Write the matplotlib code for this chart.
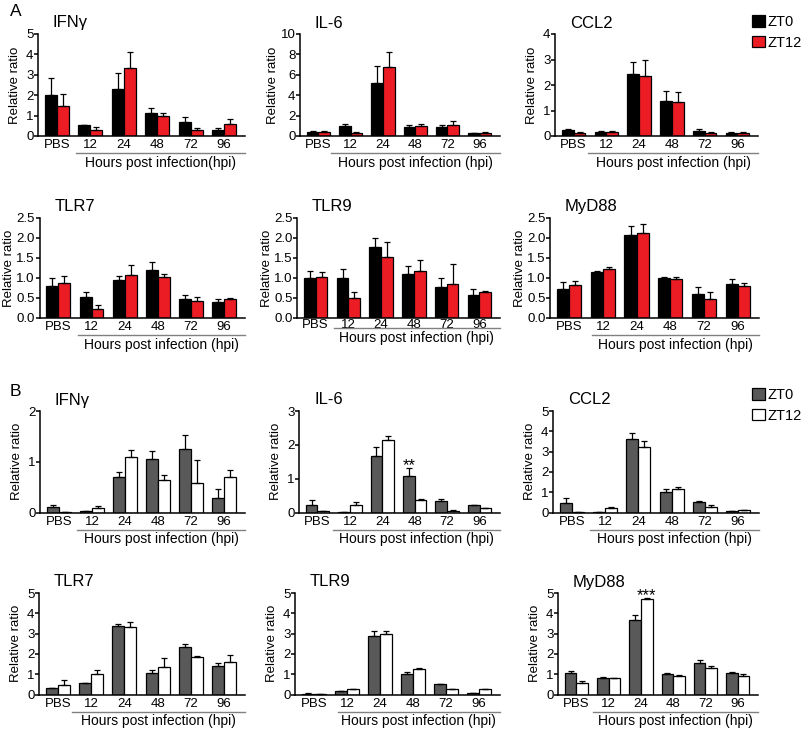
import numpy as np
import matplotlib.pyplot as plt
import matplotlib.transforms as mtransforms
from matplotlib.patches import Patch

plt.rcParams['font.family'] = ['Liberation Sans', 'DejaVu Sans']

groups = ['PBS', '12', '24', '48', '72', '96']
series = ['ZT0', 'ZT12']

# ---- A: mean and upper error ----
a_ifng_zt0 = [2.03, 0.54, 2.28, 1.14, 0.70, 0.29]
a_ifng_zt0_err = [0.80, 0.02, 0.80, 0.21, 0.24, 0.08]
a_ifng_zt12 = [1.46, 0.29, 3.35, 0.99, 0.29, 0.57]
a_ifng_zt12_err = [0.62, 0.16, 0.75, 0.16, 0.11, 0.26]

a_il6_zt0 = [0.43, 0.99, 5.15, 0.89, 0.86, 0.26]
a_il6_zt0_err = [0.06, 0.22, 1.70, 0.14, 0.26, 0.06]
a_il6_zt12 = [0.40, 0.33, 6.77, 0.99, 1.09, 0.30]
a_il6_zt12_err = [0.05, 0.06, 1.50, 0.22, 0.40, 0.06]

a_ccl2_zt0 = [0.24, 0.17, 2.42, 1.36, 0.20, 0.12]
a_ccl2_zt0_err = [0.05, 0.03, 0.48, 0.42, 0.06, 0.02]
a_ccl2_zt12 = [0.13, 0.15, 2.35, 1.33, 0.12, 0.12]
a_ccl2_zt12_err = [0.03, 0.04, 0.62, 0.40, 0.04, 0.03]

a_tlr7_zt0 = [0.80, 0.53, 0.94, 1.19, 0.48, 0.41]
a_tlr7_zt0_err = [0.19, 0.11, 0.11, 0.22, 0.10, 0.07]
a_tlr7_zt12 = [0.87, 0.23, 1.08, 1.02, 0.42, 0.48]
a_tlr7_zt12_err = [0.17, 0.09, 0.25, 0.08, 0.10, 0.03]

a_tlr9_zt0 = [0.99, 0.99, 1.78, 1.11, 0.77, 0.58]
a_tlr9_zt0_err = [0.18, 0.23, 0.21, 0.18, 0.24, 0.14]
a_tlr9_zt12 = [1.03, 0.50, 1.53, 1.18, 0.86, 0.65]
a_tlr9_zt12_err = [0.12, 0.16, 0.36, 0.28, 0.48, 0.03]

a_myd88_zt0 = [0.73, 1.16, 2.07, 1.01, 0.61, 0.85]
a_myd88_zt0_err = [0.16, 0.02, 0.22, 0.01, 0.16, 0.13]
a_myd88_zt12 = [0.82, 1.22, 2.13, 0.985, 0.48, 0.80]
a_myd88_zt12_err = [0.11, 0.05, 0.23, 0.03, 0.18, 0.07]

# ---- B ----
b_ifng_zt0 = [0.10, 0.03, 0.69, 1.06, 1.25, 0.28]
b_ifng_zt0_err = [0.05, 0.005, 0.11, 0.15, 0.27, 0.18]
b_ifng_zt12 = [0.005, 0.09, 1.09, 0.65, 0.58, 0.69]
b_ifng_zt12_err = [0.0, 0.04, 0.14, 0.08, 0.46, 0.14]

b_il6_zt0 = [0.23, 0.02, 1.68, 1.07, 0.33, 0.21]
b_il6_zt0_err = [0.14, 0.0, 0.27, 0.24, 0.06, 0.02]
b_il6_zt12 = [0.04, 0.21, 2.13, 0.36, 0.05, 0.13]
b_il6_zt12_err = [0.01, 0.11, 0.14, 0.03, 0.01, 0.01]

b_ccl2_zt0 = [0.46, 0.02, 3.62, 1.03, 0.51, 0.08]
b_ccl2_zt0_err = [0.24, 0.0, 0.28, 0.15, 0.04, 0.01]
b_ccl2_zt12 = [0.02, 0.21, 3.25, 1.16, 0.26, 0.10]
b_ccl2_zt12_err = [0.0, 0.05, 0.27, 0.12, 0.10, 0.01]

b_tlr7_zt0 = [0.33, 0.56, 3.36, 1.05, 2.33, 1.41]
b_tlr7_zt0_err = [0.01, 0.02, 0.12, 0.18, 0.18, 0.15]
b_tlr7_zt12 = [0.49, 1.02, 3.33, 1.34, 1.87, 1.61]
b_tlr7_zt12_err = [0.21, 0.20, 0.25, 0.45, 0.01, 0.36]

b_tlr9_zt0 = [0.04, 0.15, 2.87, 1.01, 0.51, 0.08]
b_tlr9_zt0_err = [0.01, 0.01, 0.28, 0.09, 0.01, 0.01]
b_tlr9_zt12 = [0.01, 0.25, 2.97, 1.25, 0.28, 0.28]
b_tlr9_zt12_err = [0.0, 0.02, 0.18, 0.06, 0.01, 0.01]

b_myd88_zt0 = [1.04, 0.82, 3.65, 1.02, 1.53, 1.05]
b_myd88_zt0_err = [0.11, 0.02, 0.28, 0.03, 0.15, 0.05]
b_myd88_zt12 = [0.56, 0.82, 4.69, 0.92, 1.30, 0.92]
b_myd88_zt12_err = [0.11, 0.01, 0.08, 0.03, 0.08, 0.10]

colors_a = ['#000000', '#ec1c24']
colors_b = ['#595959', '#ffffff']

W, H = 802, 732
fig = plt.figure(figsize=(W / 100, H / 100), dpi=100)

XMIN, XMAX = -0.57, 5.63
BW = 0.36


def draw_panel(box, title, zt0, zt0_err, zt12, zt12_err, ymax, yticks, fmt,
               colors, bstart, xlabel='Hours post infection (hpi)', squeeze=False):
    x0, x1, ytop, ybot = box
    wpx, hpx = x1 - x0, ybot - ytop
    ax = fig.add_axes([x0 / W, 1 - ybot / H, wpx / W, hpx / H])
    x = np.arange(len(groups))
    for vals, errs, c, off in [(zt0, zt0_err, colors[0], -BW / 2),
                               (zt12, zt12_err, colors[1], BW / 2)]:
        ax.bar(x + off, vals, BW, color=c, edgecolor='black', linewidth=0.9, zorder=2)
        ax.errorbar(x + off, vals, yerr=[np.zeros(len(vals)), errs], fmt='none',
                    ecolor='black', elinewidth=0.9, capsize=2.3, capthick=0.9, zorder=3)
    ax.set_xlim(XMIN, XMAX)
    ax.set_ylim(0, ymax)
    ax.set_yticks(yticks)
    labels = [fmt.format(t) for t in yticks]
    ax.set_yticklabels(labels)
    ax.set_xticks(x)
    ax.set_xticklabels(groups)
    for s in ['top', 'right']:
        ax.spines[s].set_visible(False)
    for s in ['left', 'bottom']:
        ax.spines[s].set_linewidth(1.1)
    ax.tick_params(axis='y', direction='out', length=3.0, width=1.1, pad=0.3, labelsize=9.5)
    ax.tick_params(axis='x', length=0, pad=0.5 if squeeze else 2.5, labelsize=9.5)
    ax.set_ylabel('Relative ratio', fontsize=9.5)
    nchar = max(len(s) for s in labels)
    ax.yaxis.set_label_coords(-{1: 17, 2: 21}.get(nchar, 24) / wpx, 0.5)

    trans = mtransforms.blended_transform_factory(ax.transData, ax.transAxes)
    by = (-10 if squeeze else -17) / hpx
    ly = (-20 if squeeze else -27) / hpx
    ax.plot([bstart, XMAX], [by, by], transform=trans, color='#808080', lw=1.0, clip_on=False)
    ax.text((bstart + XMAX) / 2, ly, xlabel, transform=trans, ha='center', va='center', fontsize=10)
    ax.text(15 / wpx, 1 + 11 / hpx, title, transform=ax.transAxes, ha='left', va='center',
            fontsize=12)
    return ax


yt5 = [0, 1, 2, 3, 4, 5]
yt25 = [0.0, 0.5, 1.0, 1.5, 2.0, 2.5]

draw_panel((38, 245, 34, 136), 'IFNγ', a_ifng_zt0, a_ifng_zt0_err, a_ifng_zt12, a_ifng_zt12_err,
           5, yt5, '{:g}', colors_a, 0.58, xlabel='Hours post infection(hpi)')
draw_panel((300, 500, 34, 136), 'IL-6', a_il6_zt0, a_il6_zt0_err, a_il6_zt12, a_il6_zt12_err,
           10, [0, 2, 4, 6, 8, 10], '{:g}', colors_a, 0.38)
draw_panel((555, 758, 34, 136), 'CCL2', a_ccl2_zt0, a_ccl2_zt0_err, a_ccl2_zt12,
           a_ccl2_zt12_err, 4, [0, 1, 2, 3, 4], '{:g}', colors_a, 0.45)

draw_panel((39.5, 245, 218, 318), 'TLR7', a_tlr7_zt0, a_tlr7_zt0_err, a_tlr7_zt12, a_tlr7_zt12_err,
           2.5, yt25, '{:.1f}', colors_a, 0.6)
draw_panel((297, 500, 218, 318), 'TLR9', a_tlr9_zt0, a_tlr9_zt0_err, a_tlr9_zt12, a_tlr9_zt12_err,
           2.5, yt25, '{:.1f}', colors_a, 0.55, squeeze=True)
draw_panel((550, 759, 218, 318), 'MyD88', a_myd88_zt0, a_myd88_zt0_err, a_myd88_zt12,
           a_myd88_zt12_err, 2.5, yt25, '{:.1f}', colors_a, 0.67)

draw_panel((40, 245, 411, 512.5), 'IFNγ', b_ifng_zt0, b_ifng_zt0_err, b_ifng_zt12, b_ifng_zt12_err,
           2, [0, 1, 2], '{:g}', colors_b, 0.56)
ax_il6_b = draw_panel((299, 500, 411, 512.5), 'IL-6', b_il6_zt0, b_il6_zt0_err, b_il6_zt12,
                      b_il6_zt12_err, 3, [0, 1, 2, 3], '{:g}', colors_b, 0.48)
draw_panel((553, 759, 411, 512.5), 'CCL2', b_ccl2_zt0, b_ccl2_zt0_err, b_ccl2_zt12, b_ccl2_zt12_err,
           5, yt5, '{:g}', colors_b, 0.55)

draw_panel((39, 245, 593, 694.5), 'TLR7', b_tlr7_zt0, b_tlr7_zt0_err, b_tlr7_zt12, b_tlr7_zt12_err,
           5, yt5, '{:g}', colors_b, 0.41)
draw_panel((295, 500, 593, 694.5), 'TLR9', b_tlr9_zt0, b_tlr9_zt0_err, b_tlr9_zt12, b_tlr9_zt12_err,
           5, yt5, '{:g}', colors_b, 0.72)
ax_myd_b = draw_panel((558, 758, 593, 694.5), 'MyD88', b_myd88_zt0, b_myd88_zt0_err, b_myd88_zt12,
                      b_myd88_zt12_err, 5, yt5, '{:g}', colors_b, 0.5)

# significance marks
i = groups.index('48')
ax_il6_b.annotate('**', (i - BW / 2, b_il6_zt0[i] + b_il6_zt0_err[i]), xytext=(0, -1.5),
                  textcoords='offset points', ha='center', va='baseline', fontsize=12,
                  annotation_clip=False)
i = groups.index('24')
ax_myd_b.annotate('***', (i + BW / 2, b_myd88_zt12[i] + b_myd88_zt12_err[i]), xytext=(0, -1.5),
                  textcoords='offset points', ha='center', va='baseline', fontsize=12,
                  annotation_clip=False)

# legends
for cols, ytop in [(colors_a, 15), (colors_b, 388)]:
    handles = [Patch(facecolor=c, edgecolor='black', linewidth=0.9, label=s)
               for c, s in zip(cols, series)]
    fig.legend(handles=handles, loc='upper left', bbox_to_anchor=(752 / W, 1 - ytop / H),
               bbox_transform=fig.transFigure, frameon=False, fontsize=10.5,
               handlelength=0.9, handleheight=0.85, handletextpad=0.15,
               labelspacing=0.45, borderpad=0, borderaxespad=0)

fig.text(10 / W, 1 - 11 / H, 'A', fontsize=12.5, ha='left', va='center')
fig.text(10 / W, 1 - 391 / H, 'B', fontsize=12.5, ha='left', va='center')

fig.savefig('out.png', dpi=100)
